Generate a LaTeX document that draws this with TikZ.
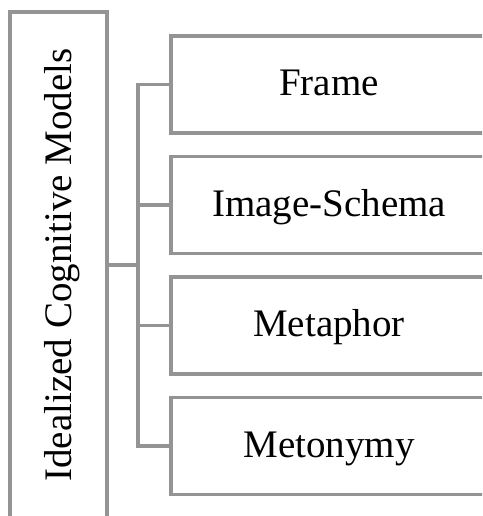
\documentclass[tikz,border=0pt]{standalone}
\usepackage{fontspec}
\setmainfont{Liberation Serif}
\definecolor{linegray}{RGB}{148,148,148}
\begin{document}
\begin{tikzpicture}[x=1pt,y=1pt,
  box/.style={draw=linegray,line width=3.2pt,fill=white,minimum width=316pt,minimum height=97pt,
    inner sep=0pt,text height=23pt,text depth=0pt,font=\fontsize{39}{46}\selectfont},
  conn/.style={draw=linegray,line width=3.2pt}]
\useasboundingbox (0,0) rectangle (482,516);
\clip (0,0) rectangle (482,516);
\fill[white] (0,0) rectangle (482,516);
\node[draw=linegray,line width=3.2pt,rotate=90,minimum width=506pt,minimum height=97pt,
  inner sep=0pt,text height=26pt,text depth=0pt,font=\fontsize{39}{46}\selectfont]
  (icm) at (58.5,251) {Idealized Cognitive Models};
\node[box] (frame) at (329,431.5) {Frame};
\node[box] (is) at (329,311) {Image-Schema};
\node[box] (meta) at (329,190.5) {Metaphor};
\node[box] (meto) at (329,70) {Metonymy};
\coordinate (bx) at (138,251);
\draw[conn] (frame.west) -| (bx) |- (meto.west);
\draw[conn] (is.west) -- (is.west -| bx);
\draw[conn] (meta.west) -- (meta.west -| bx);
\draw[conn] (icm.south) -- (bx);
\end{tikzpicture}
\end{document}
